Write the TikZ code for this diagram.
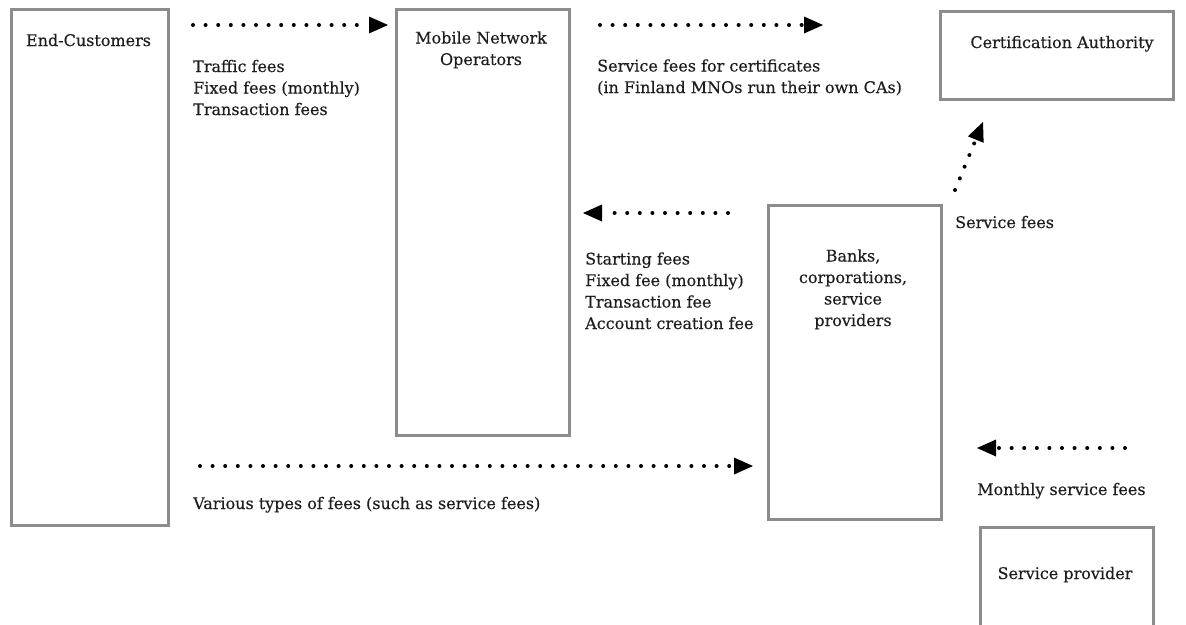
\documentclass[tikz,border=0pt]{standalone}
\usepackage{fontspec}
\setmainfont{DejaVu Serif}[FakeBold=0.3]
\usetikzlibrary{arrows.meta}
\definecolor{boxgray}{HTML}{8C8C8C}
\definecolor{ink}{HTML}{1E1E1E}
\tikzset{
  party/.style={draw=boxgray, line width=2.6pt, anchor=north west, inner sep=0pt},
  partyname/.style={text=ink, font=\fontsize{16}{21.5}\selectfont, align=center, inner sep=0pt},
  feenote/.style={text=ink, font=\fontsize{16}{21.5}\selectfont, align=left, inner sep=0pt, anchor=base west},
  flow/.style={line width=4pt, line cap=round, dash pattern=on 0pt off 12.6pt, draw=black,
    -{Triangle[length=19pt,width=17pt,line width=0pt]}}
}
\begin{document}
\begin{tikzpicture}[x=1pt,y=-1pt]
\useasboundingbox (0,0) rectangle (1186,624);
\clip (0,0) rectangle (1186,624);
\fill[white] (0,0) rectangle (1186,624);

% parties
\node[party, minimum width=157pt, minimum height=516pt] (cust) at (10,8) {};
\node[party, minimum width=173pt, minimum height=426pt] (mno) at (395,8) {};
\node[party, minimum width=233pt, minimum height=88pt] (ca) at (939,10) {};
\node[party, minimum width=173pt, minimum height=314pt] (bank) at (767,204) {};
\node[party, minimum width=173pt, minimum height=110pt] (sp) at (979,526) {};

% names (base anchor of a multi-line node = last line's baseline)
\node[partyname, anchor=base] (custname) at (88.5,46) {End-Customers};
\node[partyname, anchor=base] (mnoname) at (481,65) {Mobile Network\\Operators};
\node[partyname, anchor=base] (caname) at (1062,48) {Certification Authority};
\node[partyname, anchor=base] (bankname) at (853,326) {Banks,\\corporations,\\service\\providers};
\node[partyname, anchor=base] (spname) at (1065,579) {Service provider};

% money flows
\coordinate (f1s) at (193,25);  \coordinate (f1e) at (388,25);
\coordinate (f2s) at (600,25);  \coordinate (f2e) at (823,25);
\coordinate (f3s) at (728,213); \coordinate (f3e) at (583,213);
\coordinate (f4s) at (955,190); \coordinate (f4e) at (983,122);
\coordinate (f5s) at (200,466); \coordinate (f5e) at (753,466);
\coordinate (f6s) at (1125,448);\coordinate (f6e) at (977,448);
\draw[flow] (f1s) -- (f1e);
\draw[flow] (f2s) -- (f2e);
\draw[flow] (f3s) -- (f3e);
\draw[flow] (f4s) -- (f4e);
\draw[flow] (f5s) -- (f5e);
\draw[flow] (f6s) -- (f6e);

% fee descriptions
\node[feenote] (n1) at (193,115) {Traffic fees\\Fixed fees (monthly)\\Transaction fees};
\node[feenote] (n2) at (597,93) {Service fees for certificates\\(in Finland MNOs run their own CAs)};
\node[feenote] (n3) at (955,228) {Service fees};
\node[feenote] (n4) at (585,329) {Starting fees\\Fixed fee (monthly)\\Transaction fee\\Account creation fee};
\node[feenote] (n5) at (193,509) {Various types of fees (such as service fees)};
\node[feenote] (n6) at (977,495) {Monthly service fees};
\end{tikzpicture}
\end{document}
